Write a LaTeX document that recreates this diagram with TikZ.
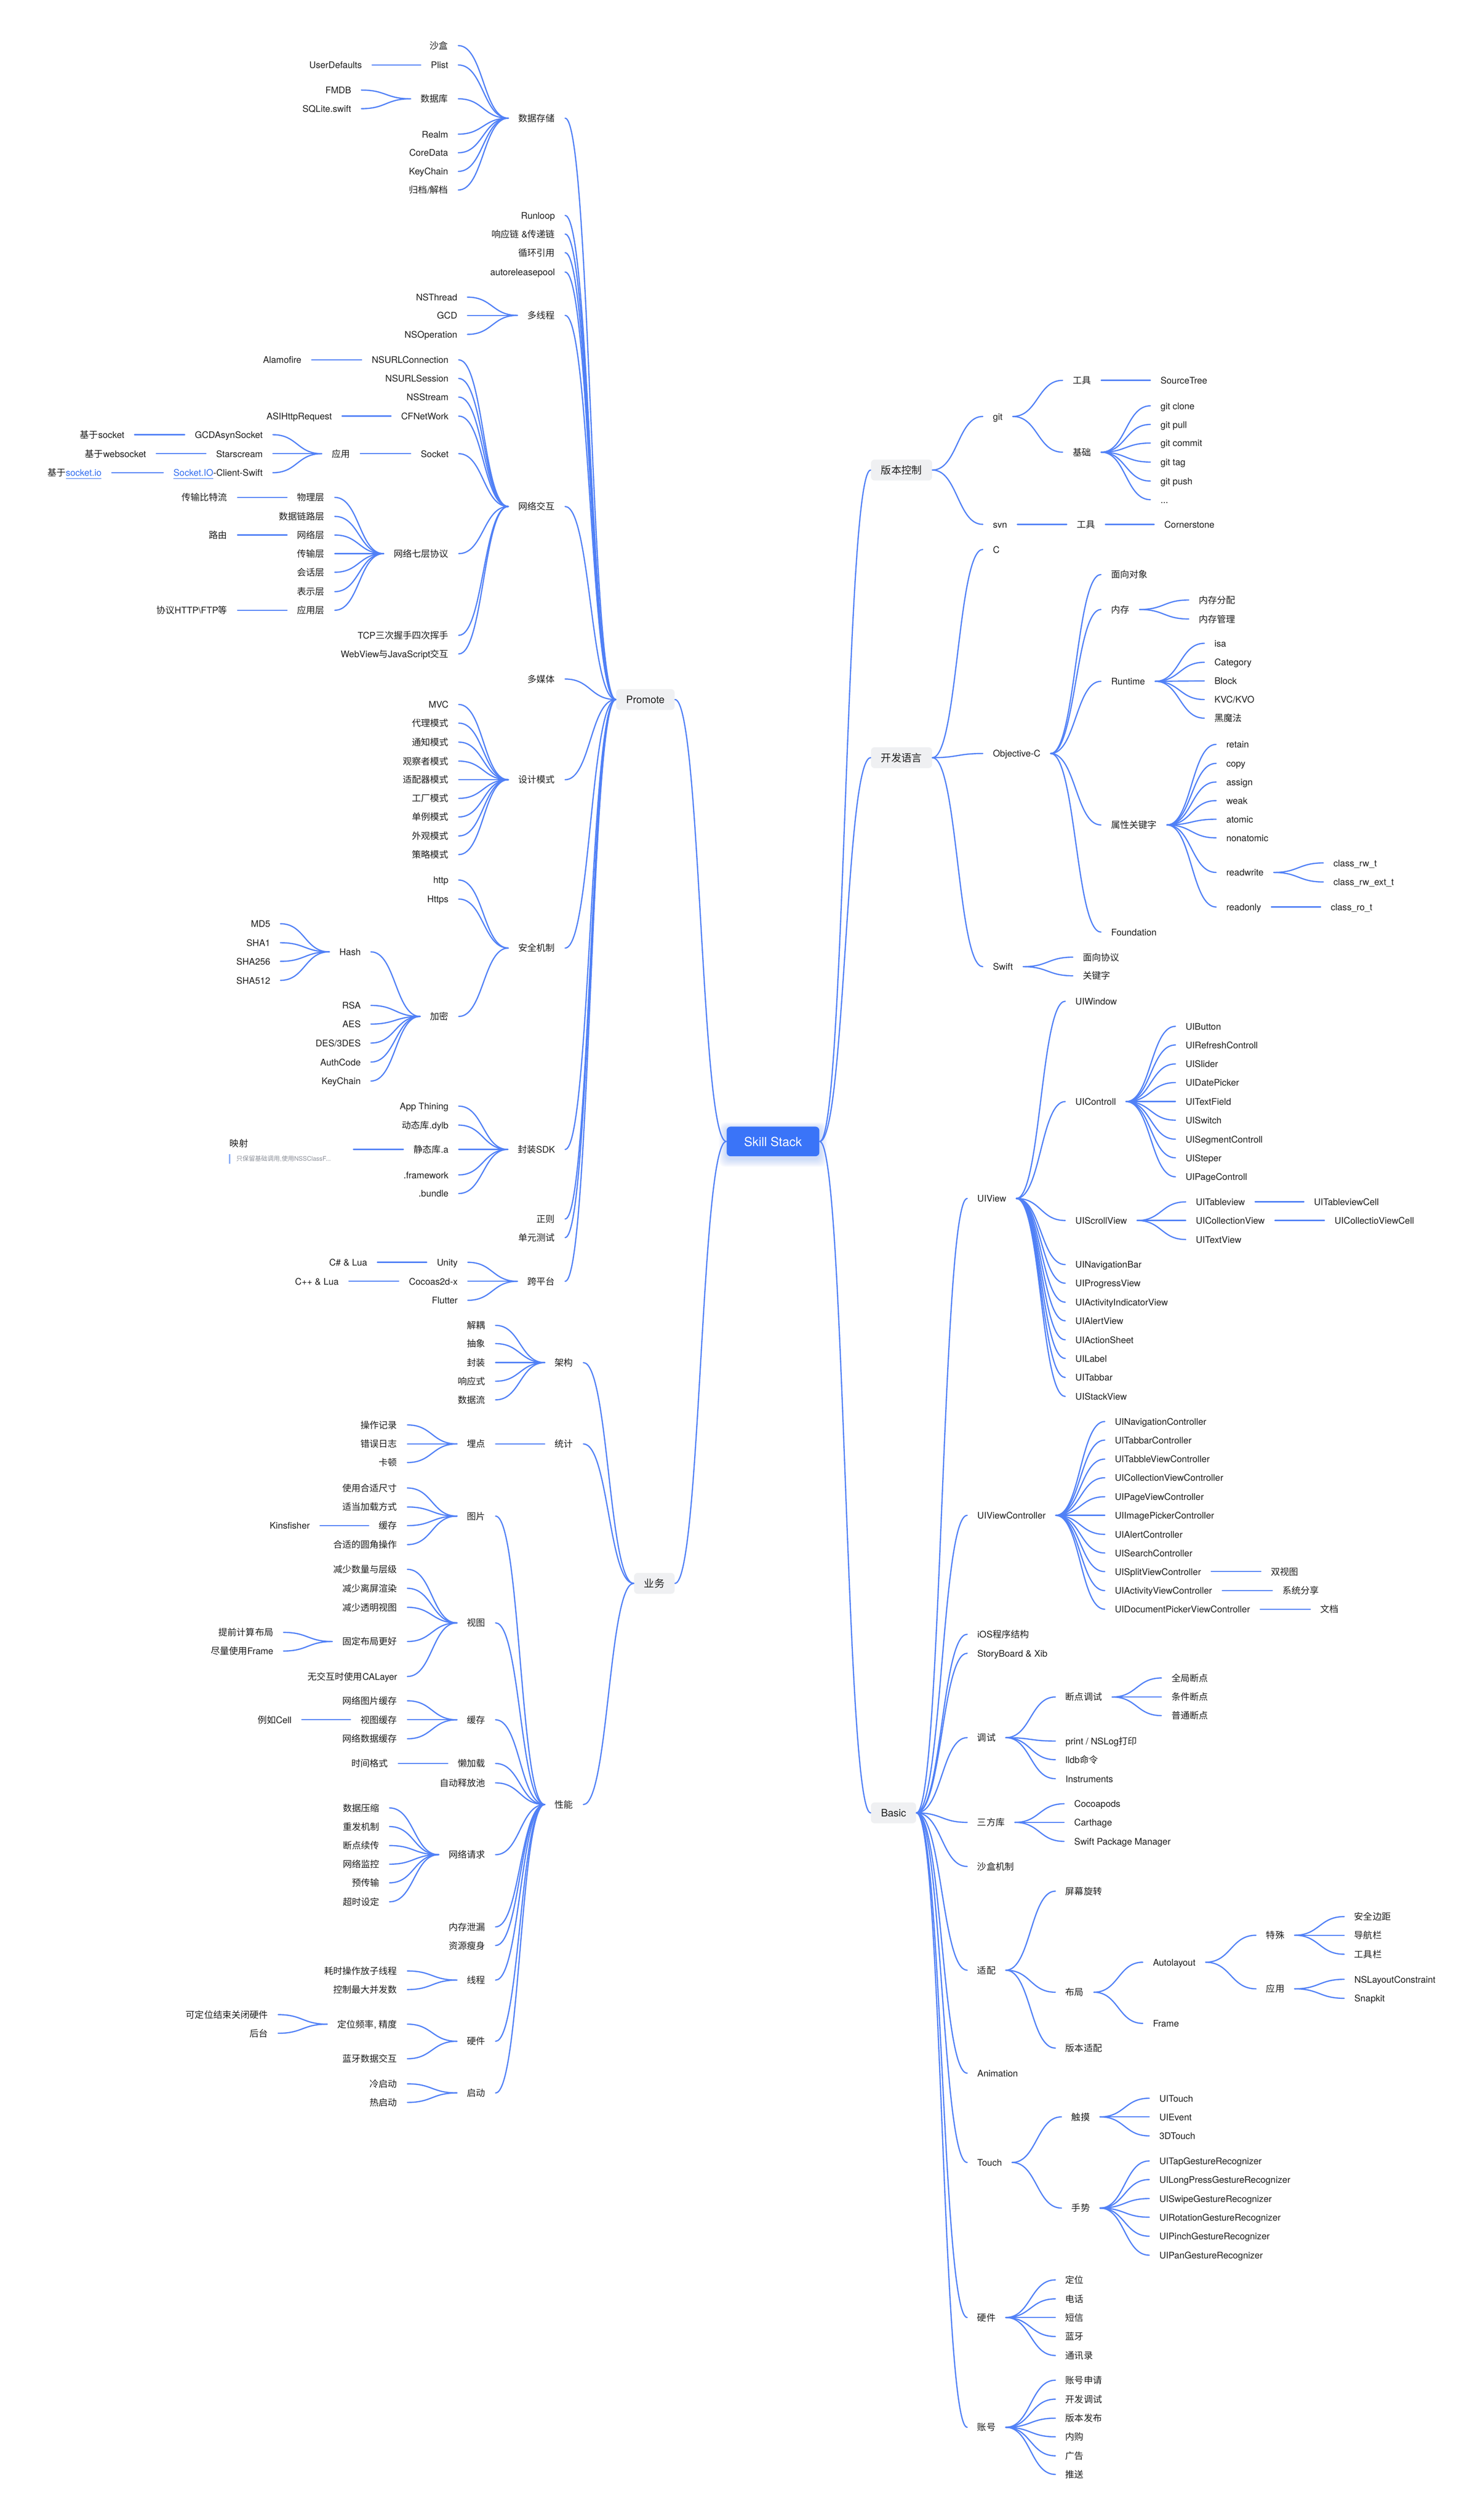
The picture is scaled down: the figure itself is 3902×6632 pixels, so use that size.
\documentclass[tikz,border=0pt]{standalone}
\usepackage{fontspec}
\setmainfont{TeX Gyre Heros}
\newfontfamily\cjkfont{Noto Sans CJK SC}
\usetikzlibrary{calc}
\XeTeXinterchartokenstate=1
\newXeTeXintercharclass\cjkcls
\newcount\cjkcnt
\cjkcnt="4E00
\loop \XeTeXcharclass\cjkcnt=\cjkcls \advance\cjkcnt by 1 \ifnum\cjkcnt<"A000 \repeat
\cjkcnt="3000
\loop \XeTeXcharclass\cjkcnt=\cjkcls \advance\cjkcnt by 1 \ifnum\cjkcnt<"3040 \repeat
\cjkcnt="FF00
\loop \XeTeXcharclass\cjkcnt=\cjkcls \advance\cjkcnt by 1 \ifnum\cjkcnt<"FFF0 \repeat
\XeTeXinterchartoks 0 \cjkcls = {\begingroup\cjkfont}
\XeTeXinterchartoks 4095 \cjkcls = {\begingroup\cjkfont}
\XeTeXinterchartoks \cjkcls 0 = {\endgroup}
\XeTeXinterchartoks \cjkcls 4095 = {\endgroup}
\definecolor{edgeblue}{RGB}{80,128,246}
\definecolor{rootblue}{RGB}{58,116,248}
\definecolor{boxgrey}{RGB}{239,240,242}
\definecolor{txt}{RGB}{30,30,30}
\definecolor{linkblue}{RGB}{50,110,240}
\definecolor{notegrey}{RGB}{140,144,153}
\definecolor{notebar}{RGB}{142,176,247}
\newcommand\fsn{\fontsize{6pt}{7.2pt}\selectfont}
\newcommand\fsb{\fontsize{6.75pt}{8pt}\selectfont}
\newcommand\fsr{\fontsize{8.25pt}{10pt}\selectfont}
\newcommand\fss{\fontsize{4.1pt}{5pt}\selectfont}
\begin{document}
\begin{tikzpicture}[x=0.25pt,y=-0.25pt,
 every node/.style={text=txt},
 tn/.style={inner xsep=6.5pt, inner ysep=0pt, font=\fsn, text height=5.28pt, text depth=0.72pt},
 lt/.style={tn, anchor=east, xshift=6.5pt},
 rt/.style={tn, anchor=west, xshift=-6.5pt},
 bx/.style={fill=boxgrey, rounded corners=2.4pt, inner xsep=6.6pt, inner ysep=0pt, minimum height=13.75pt, font=\fsb, text height=5.94pt, text depth=0.81pt},
 bxl/.style={bx, anchor=east},
 bxr/.style={bx, anchor=west},
 rootbox/.style={fill=rootblue, text=white, rounded corners=2.6pt, minimum width=61pt, minimum height=19.5pt, inner sep=0pt, font=\fsr, text height=7.26pt, text depth=0.99pt},
 br/.style={draw=edgeblue, line width=0.8pt, line cap=round, to path={let \p1=(\tikztostart), \p2=(\tikztotarget) in .. controls ({(\x1+\x2)/2},\y1) and ({(\x1+\x2)/2},\y2) .. (\tikztotarget)}}
]
\path[fill=white, use as bounding box] (0,0) rectangle (3902,6632);

% root shadow
\foreach \i in {1,...,8} \fill[rootblue, opacity=0.03, rounded corners=4pt] ({1912-\i*2.5},{2970-\i*2}) rectangle ({2156+\i*2.5},{3050+\i*2.6});
\node[rootbox] (root) at (2034,3004) {Skill Stack};

\node[bxl] (pro) at (1776,1841) {Promote};
\node[bxl] (yw) at (1776,4167) {业务};
\node[bxr] (vc) at (2291,1237) {版本控制};
\node[bxr] (kfyy) at (2291,1994) {开发语言};
\node[bxr] (basic) at (2291,4771) {Basic};

% ---------- Promote ----------
\node[lt] (ds) at (1461,311) {数据存储};
\node[lt] (rl) at (1461,567) {Runloop};
\node[lt] (xyl) at (1461,616) {响应链 \&传递链};
\node[lt] (xh) at (1461,665) {循环引用};
\node[lt] (arp) at (1461,716) {autoreleasepool};
\node[lt] (dxc) at (1461,830) {多线程};
\node[lt] (wl) at (1461,1333) {网络交互};
\node[lt] (dmt) at (1461,1787) {多媒体};
\node[lt] (sj) at (1461,2052) {设计模式};
\node[lt] (aq) at (1461,2495) {安全机制};
\node[lt] (fz) at (1461,3025) {封装SDK};
\node[lt] (zz) at (1461,3208) {正则};
\node[lt] (dy) at (1461,3257) {单元测试};
\node[lt] (kp) at (1461,3372) {跨平台};

\node[lt] (sh) at (1180,120) {沙盒};
\node[lt] (pl) at (1180,171) {Plist};
\node[lt] (sjk) at (1180,260) {数据库};
\node[lt] (rm) at (1180,353) {Realm};
\node[lt] (cd) at (1180,402) {CoreData};
\node[lt] (kc) at (1180,451) {KeyChain};
\node[lt] (gd) at (1180,500) {归档/解档};
\node[lt] (ud) at (953,171) {UserDefaults};
\node[lt] (fm) at (925,237) {FMDB};
\node[lt] (sq) at (925,286) {SQLite.swift};

\node[lt] (nst) at (1204,782) {NSThread};
\node[lt] (gcd) at (1204,830) {GCD};
\node[lt] (nso) at (1204,880) {NSOperation};

\node[lt] (nuc) at (1181,947) {NSURLConnection};
\node[lt] (nus) at (1181,996) {NSURLSession};
\node[lt] (nss) at (1181,1045) {NSStream};
\node[lt] (cfn) at (1181,1095) {CFNetWork};
\node[lt] (sock) at (1181,1194) {Socket};
\node[lt] (qc) at (1181,1457) {网络七层协议};
\node[lt] (tcp) at (1181,1672) {TCP三次握手四次挥手};
\node[lt] (wv) at (1181,1721) {WebView与JavaScript交互};
\node[lt] (alf) at (794,947) {Alamofire};
\node[lt] (asi) at (874,1095) {ASIHttpRequest};
\node[lt] (yy) at (922,1194) {应用};
\node[lt] (gcda) at (692,1144) {GCDAsynSocket};
\node[lt] (star) at (692,1194) {Starscream};
\node[lt] (sio) at (692,1244) {\textcolor{linkblue}{\underline{Socket.IO}}-Client-Swift};
\node[lt] (js1) at (328,1144) {基于socket};
\node[lt] (js2) at (385,1194) {基于websocket};
\node[lt] (js3) at (268,1244) {基于\textcolor{linkblue}{\underline{socket.io}}};
\node[lt] (wlc) at (855,1309) {物理层};
\node[lt] (sjl) at (855,1359) {数据链路层};
\node[lt] (wlo) at (855,1408) {网络层};
\node[lt] (csc) at (855,1457) {传输层};
\node[lt] (hhc) at (855,1506) {会话层};
\node[lt] (bsc) at (855,1557) {表示层};
\node[lt] (yyc) at (855,1606) {应用层};
\node[lt] (bt) at (599,1309) {传输比特流};
\node[lt] (ly) at (599,1408) {路由};
\node[lt] (xy) at (599,1606) {协议HTTP\textbackslash{}FTP等};

\node[lt] (mvc) at (1181,1854) {MVC};
\node[lt] (dl) at (1181,1903) {代理模式};
\node[lt] (tz) at (1181,1953) {通知模式};
\node[lt] (gc) at (1181,2003) {观察者模式};
\node[lt] (sp) at (1181,2052) {适配器模式};
\node[lt] (gcm) at (1181,2101) {工厂模式};
\node[lt] (dl2) at (1181,2150) {单例模式};
\node[lt] (wg) at (1181,2200) {外观模式};
\node[lt] (cl) at (1181,2249) {策略模式};

\node[lt] (http) at (1181,2316) {http};
\node[lt] (https) at (1181,2366) {Https};
\node[lt] (jm) at (1181,2675) {加密};
\node[lt] (hash) at (950,2505) {Hash};
\node[lt] (rsa) at (950,2646) {RSA};
\node[lt] (aes) at (950,2695) {AES};
\node[lt] (des) at (950,2745) {DES/3DES};
\node[lt] (auth) at (950,2795) {AuthCode};
\node[lt] (kc2) at (950,2845) {KeyChain};
\node[lt] (md5) at (712,2431) {MD5};
\node[lt] (sha1) at (712,2481) {SHA1};
\node[lt] (sha256) at (712,2530) {SHA256};
\node[lt] (sha512) at (712,2580) {SHA512};

\node[lt] (apth) at (1181,2911) {App Thining};
\node[lt] (dt) at (1181,2961) {动态库.dylb};
\node[lt] (jt) at (1181,3025) {静态库.a};
\node[lt] (fw) at (1181,3092) {.framework};
\node[lt] (bd) at (1181,3141) {.bundle};
\node[anchor=west, inner sep=0pt, font=\fsn, text height=5.28pt, text depth=0.72pt] (ysh) at (604,3009) {映射};
\node[anchor=west, inner sep=0pt, font=\fss, text=notegrey, text height=3.6pt, text depth=0.5pt] (ysn) at (621,3049) {只保留基础调用,使用NSSClassF...};
\draw[notebar, line width=0.8pt] (604,3037) -- (604,3062);
\coordinate (ysend) at (930,3025);

\node[lt] (unity) at (1205,3322) {Unity};
\node[lt] (cocos) at (1205,3372) {Cocoas2d-x};
\node[lt] (flutter) at (1205,3422) {Flutter};
\node[lt] (csl) at (967,3322) {C\# \& Lua};
\node[lt] (cpl) at (892,3372) {C++ \& Lua};

% ---------- 业务 ----------
\node[lt] (jg) at (1509,3586) {架构};
\node[lt] (tj) at (1509,3800) {统计};
\node[lt] (xn) at (1509,4749) {性能};
\node[lt] (jo) at (1278,3488) {解耦};
\node[lt] (cx) at (1278,3536) {抽象};
\node[lt] (fzz) at (1278,3586) {封装};
\node[lt] (xys) at (1278,3635) {响应式};
\node[lt] (sjll) at (1278,3684) {数据流};
\node[lt] (md) at (1278,3800) {埋点};
\node[lt] (czjl) at (1046,3750) {操作记录};
\node[lt] (cwrz) at (1046,3800) {错误日志};
\node[lt] (kd) at (1046,3849) {卡顿};
\node[lt] (tp) at (1278,3990) {图片};
\node[lt] (st) at (1278,4271) {视图};
\node[lt] (hc) at (1278,4526) {缓存};
\node[lt] (ljz) at (1278,4641) {懒加载};
\node[lt] (zdsf) at (1278,4692) {自动释放池};
\node[lt] (wlqq) at (1278,4881) {网络请求};
\node[lt] (ncxl) at (1278,5071) {内存泄漏};
\node[lt] (zyss) at (1278,5120) {资源瘦身};
\node[lt] (xc) at (1278,5211) {线程};
\node[lt] (yj) at (1278,5372) {硬件};
\node[lt] (qd) at (1278,5508) {启动};
\node[lt] (syhs) at (1046,3916) {使用合适尺寸};
\node[lt] (sdjz) at (1046,3966) {适当加载方式};
\node[lt] (tphc) at (1046,4015) {缓存};
\node[lt] (yj2) at (1046,4065) {合适的圆角操作};
\node[lt] (kf) at (816,4015) {Kinsfisher};
\node[lt] (js) at (1046,4130) {减少数量与层级};
\node[lt] (jslp) at (1046,4180) {减少离屏渲染};
\node[lt] (jstm) at (1046,4230) {减少透明视图};
\node[lt] (gdbj) at (1046,4320) {固定布局更好};
\node[lt] (wjh) at (1046,4412) {无交互时使用CALayer};
\node[lt] (tqjs) at (720,4296) {提前计算布局};
\node[lt] (jlsy) at (720,4345) {尽量使用Frame};
\node[lt] (wltp) at (1046,4476) {网络图片缓存};
\node[lt] (sthc) at (1046,4526) {视图缓存};
\node[lt] (wlsj) at (1046,4576) {网络数据缓存};
\node[lt] (lrc) at (768,4526) {例如Cell};
\node[lt] (sjgs) at (1022,4641) {时间格式};
\node[lt] (sjys) at (999,4758) {数据压缩};
\node[lt] (cfjz) at (999,4807) {重发机制};
\node[lt] (ddxc) at (999,4857) {断点续传};
\node[lt] (wljk) at (999,4906) {网络监控};
\node[lt] (ycs) at (999,4955) {预传输};
\node[lt] (cssd) at (999,5005) {超时设定};
\node[lt] (hscz) at (1046,5187) {耗时操作放子线程};
\node[lt] (kzzd) at (1046,5236) {控制最大并发数};
\node[lt] (dwpl) at (1046,5327) {定位频率, 精度};
\node[lt] (lysj) at (1046,5418) {蓝牙数据交互};
\node[lt] (kdw) at (706,5302) {可定位结束关闭硬件};
\node[lt] (ht) at (706,5351) {后台};
\node[lt] (lqd) at (1046,5484) {冷启动};
\node[lt] (rqd) at (1046,5533) {热启动};

% ---------- 版本控制 ----------
\node[rt] (git) at (2612,1096) {git};
\node[rt] (svn) at (2612,1380) {svn};
\node[rt] (gtool) at (2822,1001) {工具};
\node[rt] (gjc) at (2822,1190) {基础};
\node[rt] (srct) at (3053,1001) {SourceTree};
\node[rt] (gc1) at (3053,1068) {git clone};
\node[rt] (gc2) at (3053,1117) {git pull};
\node[rt] (gc3) at (3053,1166) {git commit};
\node[rt] (gc4) at (3053,1216) {git tag};
\node[rt] (gc5) at (3053,1266) {git push};
\node[rt] (gc6) at (3053,1315) {...};
\node[rt] (stool) at (2833,1380) {工具};
\node[rt] (corn) at (3063,1380) {Cornerstone};

% ---------- 开发语言 ----------
\node[rt] (clang) at (2612,1446) {C};
\node[rt] (objc) at (2612,1983) {Objective-C};
\node[rt] (swift) at (2612,2544) {Swift};
\node[rt] (mxdx) at (2923,1512) {面向对象};
\node[rt] (nc) at (2923,1604) {内存};
\node[rt] (rtm) at (2923,1793) {Runtime};
\node[rt] (sxgj) at (2923,2171) {属性关键字};
\node[rt] (fdn) at (2923,2453) {Foundation};
\node[rt] (ncfp) at (3154,1579) {内存分配};
\node[rt] (ncgl) at (3154,1629) {内存管理};
\node[rt] (isa) at (3195,1693) {isa};
\node[rt] (cat) at (3195,1743) {Category};
\node[rt] (blk) at (3195,1792) {Block};
\node[rt] (kvc) at (3195,1841) {KVC/KVO};
\node[rt] (hmf) at (3195,1890) {黑魔法};
\node[rt] (retain) at (3226,1959) {retain};
\node[rt] (copy) at (3226,2009) {copy};
\node[rt] (assign) at (3226,2058) {assign};
\node[rt] (weak) at (3226,2107) {weak};
\node[rt] (atomic) at (3226,2156) {atomic};
\node[rt] (nonatomic) at (3226,2205) {nonatomic};
\node[rt] (rw) at (3226,2296) {readwrite};
\node[rt] (ro) at (3226,2387) {readonly};
\node[rt] (crw) at (3508,2271) {class\_rw\_t};
\node[rt] (crwe) at (3508,2321) {class\_rw\_ext\_t};
\node[rt] (cro) at (3501,2387) {class\_ro\_t};
\node[rt] (mxxy) at (2849,2519) {面向协议};
\node[rt] (gjz) at (2849,2568) {关键字};

% ---------- Basic ----------
\node[rt] (uiview) at (2571,3154) {UIView};
\node[rt] (uivc) at (2571,3988) {UIViewController};
\node[rt] (iosjg) at (2571,4301) {iOS程序结构};
\node[rt] (sbx) at (2571,4351) {StoryBoard \& Xib};
\node[rt] (ts) at (2571,4573) {调试};
\node[rt] (sfk) at (2571,4796) {三方库};
\node[rt] (shjz) at (2571,4912) {沙盒机制};
\node[rt] (sp2) at (2571,5185) {适配};
\node[rt] (anim) at (2571,5456) {Animation};
\node[rt] (touch) at (2571,5691) {Touch};
\node[rt] (yjb) at (2571,6099) {硬件};
\node[rt] (zh) at (2571,6388) {账号};

\node[rt] (uiwin) at (2829,2635) {UIWindow};
\node[rt] (uictl) at (2829,2899) {UIControll};
\node[rt] (uisv) at (2829,3212) {UIScrollView};
\node[rt] (uinb) at (2829,3328) {UINavigationBar};
\node[rt] (uipv) at (2829,3377) {UIProgressView};
\node[rt] (uiai) at (2829,3427) {UIActivityIndicatorView};
\node[rt] (uiav) at (2829,3476) {UIAlertView};
\node[rt] (uias) at (2829,3526) {UIActionSheet};
\node[rt] (uilb) at (2829,3575) {UILabel};
\node[rt] (uitb) at (2829,3625) {UITabbar};
\node[rt] (uistk) at (2829,3675) {UIStackView};
\node[rt] (btn) at (3119,2701) {UIButton};
\node[rt] (refr) at (3119,2750) {UIRefreshControll};
\node[rt] (sld) at (3119,2800) {UISlider};
\node[rt] (dpk) at (3119,2849) {UIDatePicker};
\node[rt] (tf) at (3119,2899) {UITextField};
\node[rt] (swt) at (3119,2948) {UISwitch};
\node[rt] (seg) at (3119,2998) {UISegmentControll};
\node[rt] (stp) at (3119,3047) {UISteper};
\node[rt] (pgc) at (3119,3097) {UIPageControll};
\node[rt] (uitv) at (3146,3163) {UITableview};
\node[rt] (uicv) at (3146,3212) {UICollectionView};
\node[rt] (uitxt) at (3146,3262) {UITextView};
\node[rt] (uitvc) at (3457,3163) {UITableviewCell};
\node[rt] (uicvc) at (3511,3212) {UICollectioViewCell};

\node[rt] (nav) at (2933,3741) {UINavigationController};
\node[rt] (tabc) at (2933,3790) {UITabbarController};
\node[rt] (tblc) at (2933,3840) {UITabbleViewController};
\node[rt] (colc) at (2933,3889) {UICollectionViewController};
\node[rt] (pgvc) at (2933,3939) {UIPageViewController};
\node[rt] (impc) at (2933,3988) {UIImagePickerController};
\node[rt] (alc) at (2933,4038) {UIAlertController};
\node[rt] (srch) at (2933,4087) {UISearchController};
\node[rt] (splt) at (2933,4136) {UISplitViewController};
\node[rt] (actv) at (2933,4186) {UIActivityViewController};
\node[rt] (docp) at (2933,4235) {UIDocumentPickerViewController};
\node[rt] (ssv) at (3344,4136) {双视图};
\node[rt] (xtfx) at (3374,4186) {系统分享};
\node[rt] (wd) at (3474,4235) {文档};

\node[rt] (ddts) at (2803,4466) {断点调试};
\node[rt] (prt) at (2803,4582) {print / NSLog打印};
\node[rt] (lldb) at (2803,4631) {lldb命令};
\node[rt] (inst) at (2803,4681) {Instruments};
\node[rt] (qjdd) at (3082,4416) {全局断点};
\node[rt] (tjdd) at (3082,4466) {条件断点};
\node[rt] (ptdd) at (3082,4515) {普通断点};
\node[rt] (pods) at (2826,4747) {Cocoapods};
\node[rt] (carth) at (2826,4796) {Carthage};
\node[rt] (spm) at (2826,4846) {Swift Package Manager};
\node[rt] (pmxz) at (2803,4977) {屏幕旋转};
\node[rt] (bj) at (2803,5243) {布局};
\node[rt] (bbsp) at (2803,5390) {版本适配};
\node[rt] (al) at (3033,5164) {Autolayout};
\node[rt] (frm) at (3033,5325) {Frame};
\node[rt] (ts2) at (3331,5093) {特殊};
\node[rt] (yy2) at (3331,5234) {应用};
\node[rt] (aqbj) at (3563,5044) {安全边距};
\node[rt] (dhl) at (3563,5093) {导航栏};
\node[rt] (gjl) at (3563,5143) {工具栏};
\node[rt] (nslc) at (3563,5209) {NSLayoutConstraint};
\node[rt] (snap) at (3563,5259) {Snapkit};
\node[rt] (cm) at (2819,5571) {触摸};
\node[rt] (ss) at (2819,5811) {手势};
\node[rt] (uitouch) at (3050,5522) {UITouch};
\node[rt] (uievent) at (3050,5571) {UIEvent};
\node[rt] (d3t) at (3050,5621) {3DTouch};
\node[rt] (tapg) at (3050,5687) {UITapGestureRecognizer};
\node[rt] (lpg) at (3050,5736) {UILongPressGestureRecognizer};
\node[rt] (swg) at (3050,5786) {UISwipeGestureRecognizer};
\node[rt] (rotg) at (3050,5835) {UIRotationGestureRecognizer};
\node[rt] (ping) at (3050,5885) {UIPinchGestureRecognizer};
\node[rt] (pang) at (3050,5935) {UIPanGestureRecognizer};
\node[rt] (dw) at (2803,6000) {定位};
\node[rt] (dh) at (2803,6050) {电话};
\node[rt] (dx) at (2803,6099) {短信};
\node[rt] (ly2) at (2803,6149) {蓝牙};
\node[rt] (txl) at (2803,6199) {通讯录};
\node[rt] (zhsq) at (2803,6264) {账号申请};
\node[rt] (kfts) at (2803,6314) {开发调试};
\node[rt] (bbfb) at (2803,6364) {版本发布};
\node[rt] (ng) at (2803,6413) {内购};
\node[rt] (gg) at (2803,6463) {广告};
\node[rt] (ts3) at (2803,6512) {推送};

% ================= connectors =================
\foreach \c in {pro,yw} \draw[br] (root.west) to (\c.east);
\foreach \c in {vc,kfyy,basic} \draw[br] (root.east) to (\c.west);

\foreach \c in {ds,rl,xyl,xh,arp,dxc,wl,dmt,sj,aq,fz,zz,dy,kp} \draw[br] (pro.west) to (\c.east);
\foreach \c in {sh,pl,sjk,rm,cd,kc,gd} \draw[br] (ds.west) to (\c.east);
\draw[br] (pl.west) to (ud.east);
\foreach \c in {fm,sq} \draw[br] (sjk.west) to (\c.east);
\foreach \c in {nst,gcd,nso} \draw[br] (dxc.west) to (\c.east);
\foreach \c in {nuc,nus,nss,cfn,sock,qc,tcp,wv} \draw[br] (wl.west) to (\c.east);
\draw[br] (nuc.west) to (alf.east);
\draw[br] (cfn.west) to (asi.east);
\draw[br] (sock.west) to (yy.east);
\foreach \c in {gcda,star,sio} \draw[br] (yy.west) to (\c.east);
\draw[br] (gcda.west) to (js1.east);
\draw[br] (star.west) to (js2.east);
\draw[br] (sio.west) to (js3.east);
\foreach \c in {wlc,sjl,wlo,csc,hhc,bsc,yyc} \draw[br] (qc.west) to (\c.east);
\draw[br] (wlc.west) to (bt.east);
\draw[br] (wlo.west) to (ly.east);
\draw[br] (yyc.west) to (xy.east);
\foreach \c in {mvc,dl,tz,gc,sp,gcm,dl2,wg,cl} \draw[br] (sj.west) to (\c.east);
\foreach \c in {http,https,jm} \draw[br] (aq.west) to (\c.east);
\foreach \c in {hash,rsa,aes,des,auth,kc2} \draw[br] (jm.west) to (\c.east);
\foreach \c in {md5,sha1,sha256,sha512} \draw[br] (hash.west) to (\c.east);
\foreach \c in {apth,dt,jt,fw,bd} \draw[br] (fz.west) to (\c.east);
\draw[br] (jt.west) to (ysend);
\foreach \c in {unity,cocos,flutter} \draw[br] (kp.west) to (\c.east);
\draw[br] (unity.west) to (csl.east);
\draw[br] (cocos.west) to (cpl.east);

\foreach \c in {jg,tj,xn} \draw[br] (yw.west) to (\c.east);
\foreach \c in {jo,cx,fzz,xys,sjll} \draw[br] (jg.west) to (\c.east);
\draw[br] (tj.west) to (md.east);
\foreach \c in {czjl,cwrz,kd} \draw[br] (md.west) to (\c.east);
\foreach \c in {tp,st,hc,ljz,zdsf,wlqq,ncxl,zyss,xc,yj,qd} \draw[br] (xn.west) to (\c.east);
\foreach \c in {syhs,sdjz,tphc,yj2} \draw[br] (tp.west) to (\c.east);
\draw[br] (tphc.west) to (kf.east);
\foreach \c in {js,jslp,jstm,gdbj,wjh} \draw[br] (st.west) to (\c.east);
\foreach \c in {tqjs,jlsy} \draw[br] (gdbj.west) to (\c.east);
\foreach \c in {wltp,sthc,wlsj} \draw[br] (hc.west) to (\c.east);
\draw[br] (sthc.west) to (lrc.east);
\draw[br] (ljz.west) to (sjgs.east);
\foreach \c in {sjys,cfjz,ddxc,wljk,ycs,cssd} \draw[br] (wlqq.west) to (\c.east);
\foreach \c in {hscz,kzzd} \draw[br] (xc.west) to (\c.east);
\foreach \c in {dwpl,lysj} \draw[br] (yj.west) to (\c.east);
\foreach \c in {kdw,ht} \draw[br] (dwpl.west) to (\c.east);
\foreach \c in {lqd,rqd} \draw[br] (qd.west) to (\c.east);

\foreach \c in {git,svn} \draw[br] (vc.east) to (\c.west);
\foreach \c in {gtool,gjc} \draw[br] (git.east) to (\c.west);
\draw[br] (gtool.east) to (srct.west);
\foreach \c in {gc1,gc2,gc3,gc4,gc5,gc6} \draw[br] (gjc.east) to (\c.west);
\draw[br] (svn.east) to (stool.west);
\draw[br] (stool.east) to (corn.west);

\foreach \c in {clang,objc,swift} \draw[br] (kfyy.east) to (\c.west);
\foreach \c in {mxdx,nc,rtm,sxgj,fdn} \draw[br] (objc.east) to (\c.west);
\foreach \c in {ncfp,ncgl} \draw[br] (nc.east) to (\c.west);
\foreach \c in {isa,cat,blk,kvc,hmf} \draw[br] (rtm.east) to (\c.west);
\foreach \c in {retain,copy,assign,weak,atomic,nonatomic,rw,ro} \draw[br] (sxgj.east) to (\c.west);
\foreach \c in {crw,crwe} \draw[br] (rw.east) to (\c.west);
\draw[br] (ro.east) to (cro.west);
\foreach \c in {mxxy,gjz} \draw[br] (swift.east) to (\c.west);

\foreach \c in {uiview,uivc,iosjg,sbx,ts,sfk,shjz,sp2,anim,touch,yjb,zh} \draw[br] (basic.east) to (\c.west);
\foreach \c in {uiwin,uictl,uisv,uinb,uipv,uiai,uiav,uias,uilb,uitb,uistk} \draw[br] (uiview.east) to (\c.west);
\foreach \c in {btn,refr,sld,dpk,tf,swt,seg,stp,pgc} \draw[br] (uictl.east) to (\c.west);
\foreach \c in {uitv,uicv,uitxt} \draw[br] (uisv.east) to (\c.west);
\draw[br] (uitv.east) to (uitvc.west);
\draw[br] (uicv.east) to (uicvc.west);
\foreach \c in {nav,tabc,tblc,colc,pgvc,impc,alc,srch,splt,actv,docp} \draw[br] (uivc.east) to (\c.west);
\draw[br] (splt.east) to (ssv.west);
\draw[br] (actv.east) to (xtfx.west);
\draw[br] (docp.east) to (wd.west);
\foreach \c in {ddts,prt,lldb,inst} \draw[br] (ts.east) to (\c.west);
\foreach \c in {qjdd,tjdd,ptdd} \draw[br] (ddts.east) to (\c.west);
\foreach \c in {pods,carth,spm} \draw[br] (sfk.east) to (\c.west);
\foreach \c in {pmxz,bj,bbsp} \draw[br] (sp2.east) to (\c.west);
\foreach \c in {al,frm} \draw[br] (bj.east) to (\c.west);
\foreach \c in {ts2,yy2} \draw[br] (al.east) to (\c.west);
\foreach \c in {aqbj,dhl,gjl} \draw[br] (ts2.east) to (\c.west);
\foreach \c in {nslc,snap} \draw[br] (yy2.east) to (\c.west);
\foreach \c in {cm,ss} \draw[br] (touch.east) to (\c.west);
\foreach \c in {uitouch,uievent,d3t} \draw[br] (cm.east) to (\c.west);
\foreach \c in {tapg,lpg,swg,rotg,ping,pang} \draw[br] (ss.east) to (\c.west);
\foreach \c in {dw,dh,dx,ly2,txl} \draw[br] (yjb.east) to (\c.west);
\foreach \c in {zhsq,kfts,bbfb,ng,gg,ts3} \draw[br] (zh.east) to (\c.west);
\end{tikzpicture}
\end{document}
